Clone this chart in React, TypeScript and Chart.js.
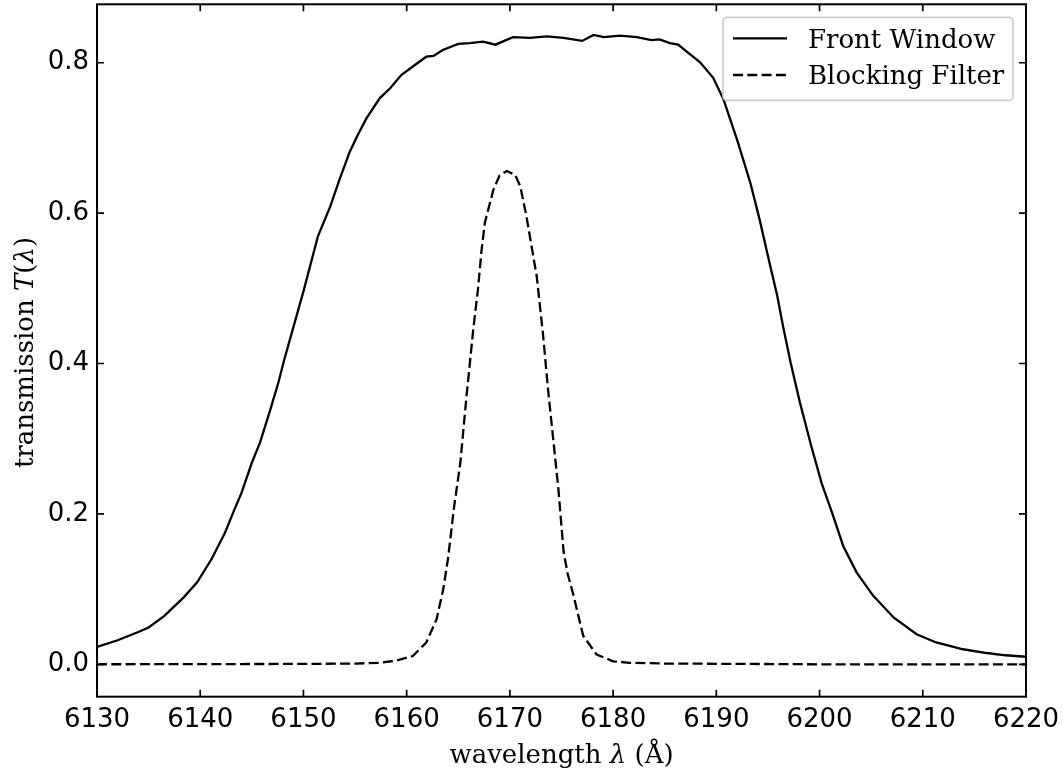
import React, { useEffect, useRef } from 'react';
import { Chart, registerables } from 'chart.js';

Chart.register(...registerables);

// ---- Data ----
const frontWavelength = [
  6130, 6132, 6134, 6135, 6136.5, 6138.4, 6139.7, 6141.1, 6142.4, 6143.2, 6144.0,
  6145.0, 6145.8, 6146.8, 6147.6, 6148.1, 6149.0, 6150.0, 6151.4, 6152.6, 6153.5,
  6154.5, 6155.3, 6156.1, 6157.4, 6158.4, 6159.5, 6160.6, 6161.9, 6162.6, 6163.5,
  6165.0, 6166.1, 6167.4, 6168.6, 6170.3, 6171.9, 6173.6, 6175.2, 6177.0, 6178.1,
  6179.1, 6180.7, 6182.3, 6183.7, 6184.5, 6185.5, 6186.3, 6187.1, 6188.4, 6189.7,
  6190.7, 6192.0, 6193.3, 6194.2, 6195.2, 6195.9, 6196.5, 6197.2, 6198.1, 6199.2,
  6200.2, 6201.2, 6202.3, 6203.6, 6205.2, 6207.2, 6209.4, 6211.3, 6213.9, 6216.2,
  6218.0, 6220.0,
];
const frontTransmission = [
  0.023, 0.032, 0.043, 0.049, 0.064, 0.089, 0.109, 0.140, 0.175, 0.202, 0.228,
  0.268, 0.295, 0.339, 0.376, 0.403, 0.447, 0.496, 0.569, 0.609, 0.645,
  0.682, 0.705, 0.726, 0.753, 0.766, 0.784, 0.795, 0.808, 0.809, 0.817,
  0.825, 0.826, 0.828, 0.824, 0.834, 0.833, 0.835, 0.833, 0.829, 0.837,
  0.834, 0.836, 0.834, 0.830, 0.831, 0.826, 0.824, 0.815, 0.801, 0.780,
  0.751, 0.698, 0.640, 0.591, 0.531, 0.490, 0.447, 0.401, 0.348, 0.290,
  0.241, 0.202, 0.157, 0.122, 0.091, 0.062, 0.040, 0.029, 0.020, 0.015,
  0.012, 0.010,
];

const blockingWavelength = [
  6130, 6150, 6155, 6157.4, 6159.0, 6160.6, 6161.9, 6162.9, 6163.55, 6164.0,
  6164.6, 6165.2, 6165.8, 6166.45, 6166.9, 6167.26, 6167.57, 6168.4, 6169.0, 6169.7,
  6170.5, 6171.0, 6171.6, 6172.1, 6172.6, 6173.2, 6173.7, 6174.2, 6174.7, 6175.2,
  6175.6, 6176.1, 6177.1, 6178.4, 6180.0, 6181.6, 6185.0, 6200.0, 6220.0,
];
const blockingTransmission = [
  0.0, 0.0005, 0.001, 0.002, 0.005, 0.011, 0.029, 0.060, 0.100, 0.140,
  0.210, 0.268, 0.357, 0.445, 0.498, 0.551, 0.587, 0.631, 0.650, 0.656,
  0.651, 0.636, 0.596, 0.556, 0.516, 0.440, 0.365, 0.299, 0.233, 0.150,
  0.120, 0.095, 0.038, 0.013, 0.004, 0.002, 0.001, 0.0, 0.0,
];

const seriesLabels = ['Front Window', 'Blocking Filter'];
const xTickValues = [6130, 6140, 6150, 6160, 6170, 6180, 6190, 6200, 6210, 6220];
const yTickValues = [0.0, 0.2, 0.4, 0.6, 0.8];
const yTickLabels = ['0.0', '0.2', '0.4', '0.6', '0.8'];

const X_MIN = 6130;
const X_MAX = 6220;
const Y_MIN = -0.0431;
const Y_MAX = 0.8777;

const SERIF = "'DejaVu Serif', 'Liberation Serif', serif";
const SANS = "'DejaVu Sans', 'Liberation Sans', sans-serif";
const FS = 26;
const LW = 2.3;

type Seg = { t: string; italic?: boolean };

function drawRich(ctx: CanvasRenderingContext2D, segs: Seg[], cx: number, baseY: number) {
  const fontFor = (s: Seg) => `${s.italic ? 'italic ' : ''}${FS}px ${SERIF}`;
  let total = 0;
  const widths = segs.map((s) => {
    ctx.font = fontFor(s);
    const w = ctx.measureText(s.t).width;
    total += w;
    return w;
  });
  let x = cx - total / 2;
  ctx.textAlign = 'left';
  ctx.textBaseline = 'alphabetic';
  segs.forEach((s, i) => {
    ctx.font = fontFor(s);
    ctx.fillText(s.t, x, baseY);
    x += widths[i];
  });
}

const decorPlugin = {
  id: 'decor',
  afterDraw(chart: any) {
    const { ctx, chartArea: a, scales } = chart;
    ctx.save();
    ctx.strokeStyle = '#000';
    ctx.fillStyle = '#000';

    // inward ticks on all four sides
    const tl = 7;
    ctx.lineWidth = 1.7;
    ctx.beginPath();
    for (const v of xTickValues) {
      const p = scales.x.getPixelForValue(v);
      ctx.moveTo(p, a.bottom);
      ctx.lineTo(p, a.bottom - tl);
      ctx.moveTo(p, a.top);
      ctx.lineTo(p, a.top + tl);
    }
    for (const v of yTickValues) {
      const p = scales.y.getPixelForValue(v);
      ctx.moveTo(a.left, p);
      ctx.lineTo(a.left + tl, p);
      ctx.moveTo(a.right, p);
      ctx.lineTo(a.right - tl, p);
    }
    ctx.stroke();

    // frame
    ctx.lineWidth = 2;
    ctx.strokeRect(a.left, a.top, a.right - a.left, a.bottom - a.top);

    // axis titles
    drawRich(
      ctx,
      [{ t: 'wavelength ' }, { t: 'λ', italic: true }, { t: ' (Å)' }],
      (a.left + a.right) / 2,
      a.bottom + 66
    );
    ctx.save();
    ctx.translate(33, (a.top + a.bottom) / 2 + 2);
    ctx.rotate(-Math.PI / 2);
    drawRich(
      ctx,
      [{ t: 'transmission ' }, { t: 'T', italic: true }, { t: '(' }, { t: 'λ', italic: true }, { t: ')' }],
      0,
      0
    );
    ctx.restore();

    // legend
    const bw = 290;
    const bh = 83;
    const bx = a.right - 13 - bw;
    const by = a.top + 13;
    const r = 4;
    ctx.beginPath();
    ctx.moveTo(bx + r, by);
    ctx.lineTo(bx + bw - r, by);
    ctx.arcTo(bx + bw, by, bx + bw, by + r, r);
    ctx.lineTo(bx + bw, by + bh - r);
    ctx.arcTo(bx + bw, by + bh, bx + bw - r, by + bh, r);
    ctx.lineTo(bx + r, by + bh);
    ctx.arcTo(bx, by + bh, bx, by + bh - r, r);
    ctx.lineTo(bx, by + r);
    ctx.arcTo(bx, by, bx + r, by, r);
    ctx.closePath();
    ctx.fillStyle = 'rgba(255,255,255,0.85)';
    ctx.fill();
    ctx.strokeStyle = '#cccccc';
    ctx.lineWidth = 1.7;
    ctx.stroke();

    const rows = [by + 21, by + 57.7];
    const textBase = [by + 30.4, by + 67];
    chart.data.datasets.forEach((ds: any, i: number) => {
      ctx.strokeStyle = ds.borderColor;
      ctx.lineWidth = ds.borderWidth;
      ctx.setLineDash(ds.borderDash || []);
      ctx.beginPath();
      ctx.moveTo(bx + 10, rows[i]);
      ctx.lineTo(bx + 64, rows[i]);
      ctx.stroke();
      ctx.setLineDash([]);
      ctx.fillStyle = '#000';
      ctx.font = `${FS}px ${SERIF}`;
      ctx.textAlign = 'left';
      ctx.textBaseline = 'alphabetic';
      ctx.fillText(ds.label, bx + 85, textBase[i]);
    });

    ctx.restore();
  },
};

export default function App() {
  const canvasRef = useRef<HTMLCanvasElement | null>(null);

  useEffect(() => {
    if (!canvasRef.current) return;
    const frontData = frontWavelength.map((x, i) => ({ x, y: frontTransmission[i] }));
    const blockData = blockingWavelength.map((x, i) => ({ x, y: blockingTransmission[i] }));

    const chart = new Chart(canvasRef.current, {
      type: 'line',
      data: {
        datasets: [
          {
            label: seriesLabels[0],
            data: frontData,
            borderColor: '#000000',
            borderWidth: LW,
            pointRadius: 0,
            tension: 0,
            fill: false,
          },
          {
            label: seriesLabels[1],
            data: blockData,
            borderColor: '#000000',
            borderWidth: LW,
            borderDash: [10, 4.3],
            pointRadius: 0,
            tension: 0,
            fill: false,
          },
        ],
      },
      options: {
        animation: false,
        responsive: true,
        maintainAspectRatio: false,
        layout: { padding: { left: 0, right: 37, top: 4.3, bottom: 0 } },
        plugins: {
          legend: { display: false },
          tooltip: { enabled: false },
          title: { display: false },
        },
        scales: {
          x: {
            type: 'linear',
            min: X_MIN,
            max: X_MAX,
            grid: { display: false, drawTicks: false },
            border: { display: false },
            ticks: {
              color: '#000',
              font: { family: SANS, size: FS },
              padding: 7.5,
              maxRotation: 0,
              autoSkip: false,
              callback: (v: any) => String(Math.round(Number(v))),
            },
            afterBuildTicks: (scale: any) => {
              scale.ticks = xTickValues.map((v) => ({ value: v }));
            },
            afterFit: (scale: any) => {
              scale.height = 77.3;
              scale.paddingLeft = 0;
              scale.paddingRight = 0;
            },
          },
          y: {
            type: 'linear',
            min: Y_MIN,
            max: Y_MAX,
            grid: { display: false, drawTicks: false },
            border: { display: false },
            ticks: {
              color: '#000',
              font: { family: SANS, size: FS },
              padding: 8,
              autoSkip: false,
              callback: (v: any) => {
                const idx = yTickValues.findIndex((t) => Math.abs(t - Number(v)) < 1e-6);
                return idx >= 0 ? yTickLabels[idx] : '';
              },
            },
            afterBuildTicks: (scale: any) => {
              scale.ticks = yTickValues.map((v) => ({ value: v }));
            },
            afterFit: (scale: any) => {
              scale.width = 97;
              scale.paddingTop = 0;
              scale.paddingBottom = 0;
            },
          },
        },
      },
      plugins: [decorPlugin],
    });

    return () => chart.destroy();
  }, []);

  return (
    <div
      style={{
        position: 'fixed',
        left: 0,
        top: 0,
        width: 1063,
        height: 774,
        background: '#ffffff',
      }}
    >
      <canvas ref={canvasRef} />
    </div>
  );
}
